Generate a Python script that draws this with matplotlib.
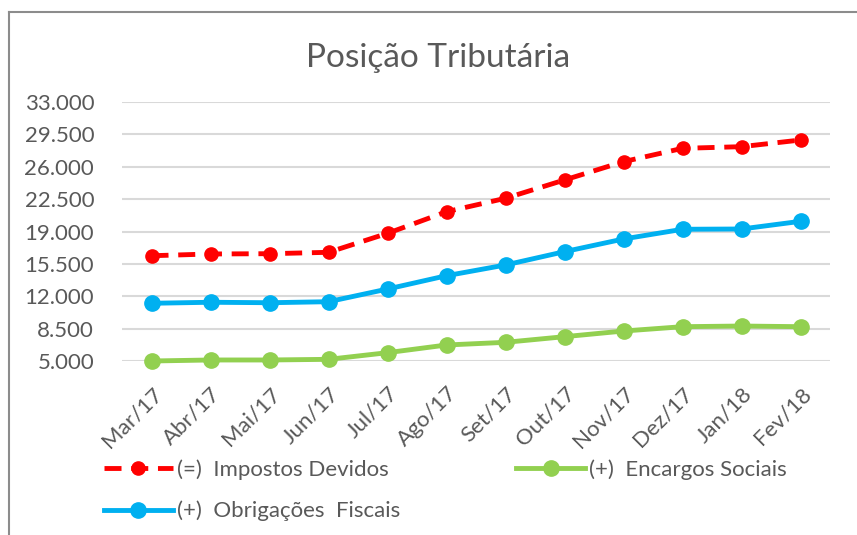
import matplotlib
matplotlib.use('Agg')
import matplotlib.pyplot as plt
from matplotlib.lines import Line2D
from matplotlib.ticker import FuncFormatter

OUTPUT_FILE = "out.png"

meses = ["Mar/17", "Abr/17", "Mai/17", "Jun/17", "Jul/17", "Ago/17",
         "Set/17", "Out/17", "Nov/17", "Dez/17", "Jan/18", "Fev/18"]

impostos_devidos = [16380, 16570, 16600, 16750, 18800, 21140,
                    22590, 24570, 26550, 27990, 28170, 28890]
obrigacoes_fiscais = [11240, 11350, 11300, 11410, 12780, 14220,
                      15380, 16820, 18190, 19240, 19270, 20100]
encargos_sociais = [5000, 5110, 5110, 5180, 5900, 6730,
                    7020, 7630, 8240, 8710, 8780, 8710]

y_ticks = [5000, 8500, 12000, 15500, 19000, 22500, 26000, 29500, 33000]

RED = "#FF0000"
BLUE = "#00B0F0"
GREEN = "#92D050"
TEXT = "#595959"
GRID = "#D9D9D9"

plt.rcParams['font.family'] = ['Lato', 'DejaVu Sans']


def br_fmt(v, pos):
    return f"{int(v):,}".replace(",", ".")


def plot():
    fig = plt.figure(figsize=(8.57, 5.35), dpi=100)
    ax = fig.add_axes([122 / 857, 1 - 361 / 535, 708 / 857, 259 / 535])

    x = list(range(len(meses)))

    ax.plot(x, impostos_devidos, color=RED, lw=3.5, dashes=(3.5, 2),
            marker='o', markersize=9.5, clip_on=False, zorder=3,
            label="(=)  Impostos Devidos")
    ax.plot(x, obrigacoes_fiscais, color=BLUE, lw=3.5, marker='o',
            markersize=11, clip_on=False, zorder=3,
            label="(+)  Obrigações  Fiscais")
    ax.plot(x, encargos_sociais, color=GREEN, lw=3.5, marker='o',
            markersize=11, clip_on=False, zorder=3,
            label="(+)  Encargos Sociais")

    ax.set_xlim(-0.5, len(meses) - 0.5)
    ax.set_ylim(5000, 33000)
    ax.set_yticks(y_ticks)
    ax.yaxis.set_major_formatter(FuncFormatter(br_fmt))
    ax.grid(axis='y', color=GRID, lw=1.5)
    ax.set_axisbelow(True)
    for s in ax.spines.values():
        s.set_visible(False)

    ax.set_xticks(x)
    ax.set_xticklabels(meses, rotation=45, ha='right', va='top',
                       rotation_mode='anchor')
    ax.tick_params(axis='both', length=0, labelsize=16, labelcolor=TEXT)
    ax.tick_params(axis='y', pad=20)
    ax.tick_params(axis='x', pad=16)

    fig.text(0.511, 1 - 58 / 535, "Posição Tributária", fontsize=24,
             color=TEXT, ha='center', va='center')

    handles, labels = ax.get_legend_handles_labels()
    fig.legend(handles, labels, ncol=2, frameon=False, fontsize=16,
               labelcolor=TEXT, handlelength=3.1, handletextpad=0.2,
               columnspacing=5.2, labelspacing=0.95,
               loc='upper left', bbox_to_anchor=(84 / 857, 1 - 439 / 535))

    # chart border (top and left visible)
    fig.add_artist(Line2D([9 / 857, 1.0], [1 - 12 / 535, 1 - 12 / 535],
                          transform=fig.transFigure, color="#8C8C8C", lw=1.5))
    fig.add_artist(Line2D([9 / 857, 9 / 857], [0.0, 1 - 12 / 535],
                          transform=fig.transFigure, color="#8C8C8C", lw=1.5))

    fig.savefig(OUTPUT_FILE, dpi=100, facecolor="white")


if __name__ == "__main__":
    plot()
